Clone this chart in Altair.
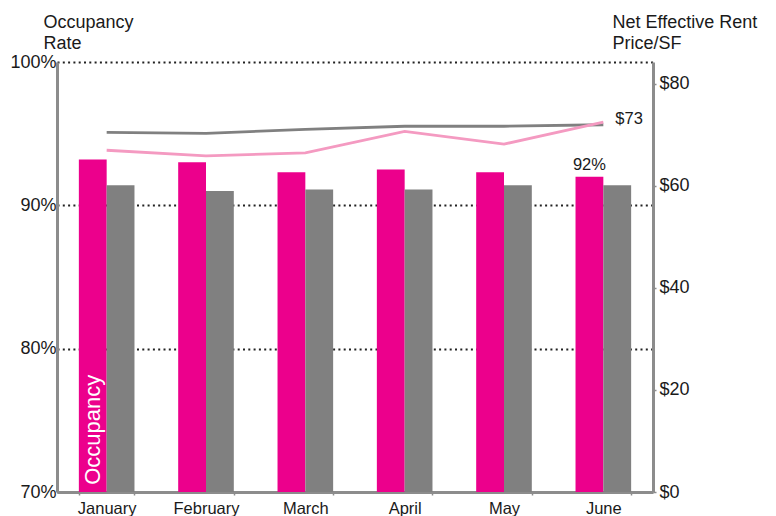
import altair as alt
import pandas as pd

months = ["January", "February", "March", "April", "May", "June"]
occ_property = [93.2, 93.0, 92.3, 92.5, 92.3, 92.0]
occ_market = [91.4, 91.0, 91.1, 91.1, 91.4, 91.4]
rent_property = [67.0, 65.9, 66.5, 70.7, 68.2, 72.5]
rent_market = [70.5, 70.3, 71.1, 71.7, 71.7, 72.0]
series = ["Property", "Market"]

PINK = "#EC008C"
GRAY = "#808080"
PINK_LINE = "#F49AC1"
FONT = "Liberation Sans"
TXT = "#1a1a1a"

bars_df = pd.DataFrame(
    [{"month": m, "series": "Property", "occ": v} for m, v in zip(months, occ_property)]
    + [{"month": m, "series": "Market", "occ": v} for m, v in zip(months, occ_market)]
)
lines_df = pd.DataFrame(
    [{"month": m, "series": "Market", "rent": v} for m, v in zip(months, rent_market)]
    + [{"month": m, "series": "Property", "rent": v} for m, v in zip(months, rent_property)]
)

x_enc = alt.X(
    "month:N",
    sort=months,
    scale=alt.Scale(paddingInner=0.44, paddingOuter=0.22),
    axis=alt.Axis(
        title=None,
        labelFont=FONT,
        labelFontSize=16.5,
        labelColor=TXT,
        labelAngle=0,
        labelPadding=5,
        domainColor="#8c8c8c",
        domainWidth=3,
        tickBand="extent",
        tickColor="#8c8c8c",
        tickSize=3,
        tickWidth=1.5,
    ),
)
xoff = alt.XOffset("series:N", sort=series, scale=alt.Scale(paddingInner=0, paddingOuter=0))

y_left_scale = alt.Scale(domain=[70, 100], zero=False, clamp=True)
y_left = alt.Y(
    "occ:Q",
    scale=y_left_scale,
    axis=alt.Axis(
        values=[70, 80, 90, 100],
        labelExpr="datum.value + '%'",
        labelFont=FONT,
        labelFontSize=18,
        labelColor=TXT,
        labelPadding=1,
        ticks=False,
        domainColor="#8c8c8c",
        domainWidth=3,
        grid=True,
        gridColor="#222222",
        gridDash=[2, 3.3],
        gridWidth=2,
        title=["Occupancy", "Rate"],
        titleFont=FONT,
        titleFontSize=18,
        titleFontWeight="normal",
        titleColor=TXT,
        titleAngle=0,
        titleAlign="left",
        titleBaseline="alphabetic",
        titleX=-14,
        titleY=-35,
        titleLineHeight=21,
    ),
)

bars = alt.Chart(bars_df).mark_bar().encode(
    x=x_enc,
    xOffset=xoff,
    y=y_left,
    y2=alt.datum(70),
    color=alt.Color("series:N", scale=alt.Scale(domain=series, range=[PINK, GRAY]), legend=None),
)

label92 = alt.Chart(bars_df).transform_filter(
    (alt.datum.month == "June") & (alt.datum.series == "Property")
).transform_calculate(lbl="format(datum.occ, '.0f') + '%'").mark_text(
    font=FONT, fontSize=16.5, color=TXT, baseline="alphabetic", dy=-7
).encode(
    x=alt.X("month:N", sort=months),
    xOffset=xoff,
    y=alt.Y("occ:Q", scale=y_left_scale),
    text="lbl:N",
)

occ_word = alt.Chart(bars_df).transform_filter(
    (alt.datum.month == "January") & (alt.datum.series == "Property")
).transform_calculate(lbl="'Occupancy'", base="70.5").mark_text(
    font=FONT, fontSize=22, color="white", angle=270, align="left", baseline="middle"
).encode(
    x=alt.X("month:N", sort=months),
    xOffset=xoff,
    y=alt.Y("base:Q", scale=y_left_scale),
    text="lbl:N",
)

left = alt.layer(bars, label92, occ_word)

y_right_scale = alt.Scale(domain=[0, 84.3], nice=False)
lines = alt.Chart(lines_df).mark_line(strokeWidth=2.8).encode(
    x=alt.X("month:N", sort=months),
    y=alt.Y(
        "rent:Q",
        scale=y_right_scale,
        axis=alt.Axis(
            orient="right",
            values=[0, 20, 40, 60, 80],
            labelExpr="'$' + datum.value",
            labelFont=FONT,
            labelFontSize=18,
            labelColor=TXT,
            labelPadding=3,
            tickSize=3,
            tickColor="#8c8c8c",
            tickWidth=1.5,
            domainColor="#8c8c8c",
            domainWidth=3,
            grid=False,
            title=["Net Effective Rent", "Price/SF"],
            titleFont=FONT,
            titleFontSize=18,
            titleFontWeight="normal",
            titleColor=TXT,
            titleAngle=0,
            titleAlign="left",
            titleBaseline="alphabetic",
            titleX=-41,
            titleY=-35,
            titleLineHeight=21,
        ),
    ),
    color=alt.Color(
        "series:N",
        scale=alt.Scale(domain=["Market", "Property"], range=[GRAY, PINK_LINE]),
        legend=None,
    ),
)

label73 = alt.Chart(lines_df).transform_filter(
    (alt.datum.month == "June") & (alt.datum.series == "Property")
).transform_calculate(lbl="'$' + format(datum.rent, '.0f')").mark_text(
    font=FONT, fontSize=16.5, color=TXT, align="left", baseline="middle", dx=12, dy=-3
).encode(
    x=alt.X("month:N", sort=months),
    y=alt.Y("rent:Q", scale=y_right_scale),
    text="lbl:N",
)

right = alt.layer(lines, label73)

chart = alt.layer(left, right).resolve_scale(y="independent", color="independent").properties(
    width=596,
    height=430,
    autosize=alt.AutoSizeParams(type="none"),
    padding={"left": 49, "top": 54, "right": 115, "bottom": 40},
).configure_view(stroke=None)

chart.save("out.html", embed_options={"renderer": "svg", "actions": False})
